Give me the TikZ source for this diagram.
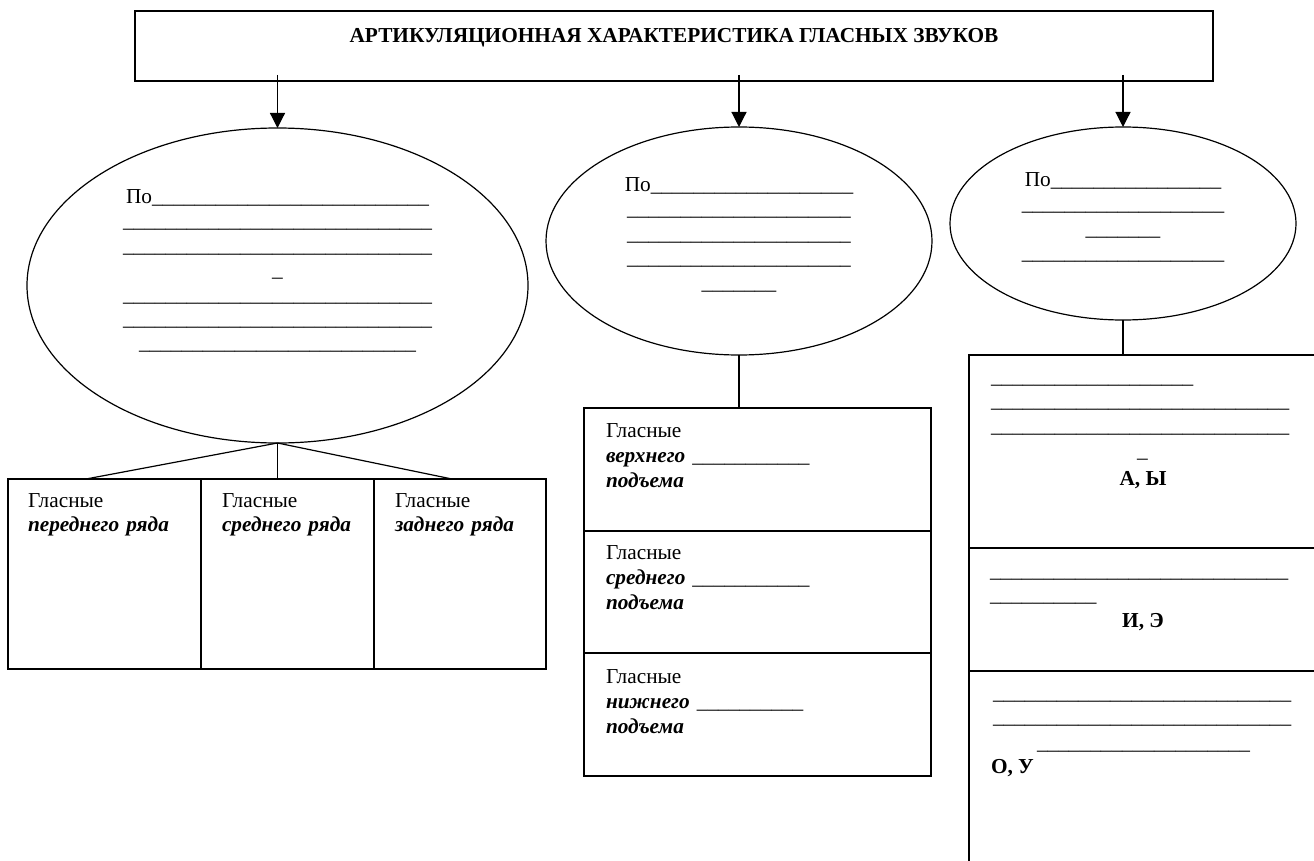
\documentclass[tikz,border=0pt]{standalone}
\usepackage{fontspec}
\setmainfont{Liberation Serif}
\usetikzlibrary{shapes.geometric,arrows.meta}
\newcount\blankcnt
\newcommand\blanks[1]{\blankcnt=#1\relax\loop\ifnum\blankcnt>0 \_\advance\blankcnt by -1\relax\repeat}
\newcommand\bi[1]{\textbf{\textit{#1}}}
\tikzset{
  fs/.style={font=\fontsize{21.3}{24.4}\selectfont},
  txt/.style={fs, inner sep=0, outer sep=0},
  blk/.style={txt, anchor=base west, text width=#1, align=left},
  cblk/.style={txt, anchor=base, text width=#1, align=center},
  frame/.style={draw, line width=1.2pt, inner sep=0, outer sep=0},
  ell/.style={draw, ellipse, line width=1.2pt, inner sep=0, outer sep=0},
  conn/.style={line width=1.2pt},
  arr/.style={line width=1.2pt, -{Triangle[length=15pt,width=15pt]}}
}
\begin{document}
\begin{tikzpicture}[x=1pt,y=-1pt]
\useasboundingbox (0,0) rectangle (1314,861);
\clip (0,0) rectangle (1314,861);
% title
\node[frame, minimum width=1078pt, minimum height=70pt] (title) at (674,46) {};
\node[txt, anchor=base, font=\fontsize{21.3}{24.4}\selectfont\bfseries] (titletext) at (674,43) {АРТИКУЛЯЦИОННАЯ ХАРАКТЕРИСТИКА ГЛАСНЫХ ЗВУКОВ};
% ellipses
\node[ell, minimum width=501pt, minimum height=315pt] (e1) at (277.5,285.5) {};
\node[ell, minimum width=386pt, minimum height=228pt] (e2) at (739,241) {};
\node[ell, minimum width=346pt, minimum height=193pt] (e3) at (1123,223.5) {};
% arrows
\coordinate (a1) at (277.5,75);
\coordinate (a2) at (739,75);
\coordinate (a3) at (1123,75);
\draw[arr] (a1) -- (e1.north);
\draw[arr] (a2) -- (e2.north);
\draw[arr] (a3) -- (e3.north);
% ellipse texts
\node[cblk=330pt] (t1) at (277.5,203.5) {По\blanks{26}\\ \blanks{29}\\ \blanks{29}\\ \_\\ \blanks{29}\\ \blanks{29}\\ \blanks{26}};
\node[cblk=250pt] (t2) at (739,191.5) {По\blanks{19}\\ \blanks{21}\\ \blanks{21}\\ \blanks{21}\\ \blanks{7}};
\node[cblk=230pt] (t3) at (1123,186.5) {По\blanks{16}\\ \blanks{19}\\ \blanks{7}\\ \blanks{19}};
% left boxes
\node[frame, anchor=north west, minimum width=193pt, minimum height=190pt] (lb1) at (8,479) {};
\node[frame, anchor=north west, minimum width=173pt, minimum height=190pt] (lb2) at (201,479) {};
\node[frame, anchor=north west, minimum width=172pt, minimum height=190pt] (lb3) at (374,479) {};
\coordinate (j1) at (86,479);
\coordinate (j2) at (277.5,479);
\coordinate (j3) at (452,479);
\draw[conn] (e1.south) -- (j1);
\draw[conn] (e1.south) -- (j2);
\draw[conn] (e1.south) -- (j3);
\node[blk=170pt] (lt1) at (28,507) {Гласные\\ \bi{переднего ряда}};
\node[blk=170pt] (lt2) at (222,507) {Гласные\\ \bi{среднего ряда}};
\node[blk=170pt] (lt3) at (395,507) {Гласные\\ \bi{заднего ряда}};
% middle boxes
\node[frame, anchor=north west, minimum width=347pt, minimum height=123pt] (mb1) at (584,408) {};
\node[frame, anchor=north west, minimum width=347pt, minimum height=122pt] (mb2) at (584,531) {};
\node[frame, anchor=north west, minimum width=347pt, minimum height=123pt] (mb3) at (584,653) {};
\draw[conn] (e2.south) -- (e2.south |- mb1.north);
\node[blk=320pt, font=\fontsize{21.3}{25}\selectfont] (mt1) at (606,437) {Гласные\\ \bi{верхнего} \blanks{11}\\ \bi{подъема}};
\node[blk=320pt, font=\fontsize{21.3}{25}\selectfont] (mt2) at (606,559) {Гласные\\ \bi{среднего} \blanks{11}\\ \bi{подъема}};
\node[blk=320pt, font=\fontsize{21.3}{25}\selectfont] (mt3) at (606,683) {Гласные\\ \bi{нижнего} \blanks{10}\\ \bi{подъема}};
% right boxes
\node[frame, anchor=north west, minimum width=400pt, minimum height=193pt] (rb1) at (969,355) {};
\node[frame, anchor=north west, minimum width=400pt, minimum height=123pt] (rb2) at (969,548) {};
\node[frame, anchor=north west, minimum width=400pt, minimum height=300pt] (rb3) at (969,671) {};
\draw[conn] (e3.south) -- (e3.south |- rb1.north);
\node[blk=330pt] (rt1) at (991,383.5) {\blanks{19}\\ \blanks{28}\\ \blanks{28}};
\node[txt, anchor=base west] (rt1b) at (1137,457.5) {\_};
\node[txt, anchor=base, font=\fontsize{21.3}{24.4}\selectfont\bfseries] (ay) at (1143,485) {А, Ы};
\node[blk=330pt] (rt2) at (990,577.5) {\blanks{28}\\ \blanks{10}};
\node[txt, anchor=base, font=\fontsize{21.3}{24.4}\selectfont\bfseries] (ie) at (1143,627) {И, Э};
\node[blk=330pt] (rt3) at (993,699.5) {\blanks{28}\\ \blanks{28}};
\node[txt, anchor=base west] (rt3b) at (1037,749.5) {\blanks{20}};
\node[txt, anchor=base west, font=\fontsize{21.3}{24.4}\selectfont\bfseries] (ou) at (991,773) {О, У};
\end{tikzpicture}
\end{document}
